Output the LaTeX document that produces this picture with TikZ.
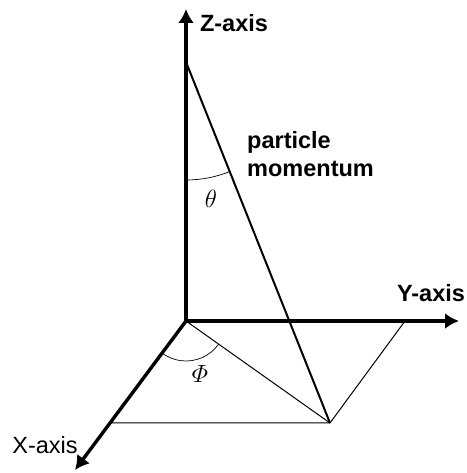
\documentclass[tikz,border=0pt]{standalone}
\usepackage{amsmath}
\usepackage{fontspec}
\setmainfont{Liberation Sans}
\usepackage{xcolor}
\usetikzlibrary{arrows.meta}
\definecolor{AxisBlack}{HTML}{000000}
\tikzset{
  axisline/.style={AxisBlack,line width=3.4pt,-{Latex[length=14pt,width=16pt]}},
  vecline/.style={AxisBlack,line width=2pt},
  thinline/.style={AxisBlack,line width=1pt},
  anglearc/.style={AxisBlack,line width=0.7pt},
  axislabel/.style={font=\fontsize{23.5}{28}\selectfont\bfseries},
  anglelabel/.style={font=\fontsize{23}{26}\selectfont}
}

\begin{document}
\begin{tikzpicture}[x=1pt,y=1pt,>=Latex]
    \useasboundingbox (0,0) rectangle (466,473);
    \coordinate (O) at (186,152);
    \coordinate (Ztip) at (186,464);
    \coordinate (Ytip) at (459,152);
    \coordinate (Xtip) at (75,3);
    \coordinate (Ztop) at (186,411);
    \coordinate (Xfoot) at (110,50);
    \coordinate (Yfoot) at (405,152);
    \coordinate (Pfoot) at (330,50);
    % base parallelogram
    \draw[thinline] (Xfoot)--(Pfoot)--(Yfoot);
    \draw[thinline] (O)--(Pfoot);
    % axes
    \draw[axisline] (O)--(Ztip);
    \draw[axisline] (O)--(Ytip);
    \draw[axisline] (O)--(Xtip);
    \draw[vecline] (Ztop)--(Pfoot);
    % angles
    \draw[anglearc] ([shift={(270:118)}]Ztop) arc[start angle=270,end angle=291.75,radius=118];
    \draw[anglearc] ([shift={(233.3:40)}]O) arc[start angle=233.3,end angle=324.7,radius=40];
    \node[anglelabel] (theta) at (211,274) {$\theta$};
    \node[anglelabel] (phi) at (200,99) {$\varPhi$};
    % labels
    \node[axislabel] (zlab) at (234,450) {Z-axis};
    \node[axislabel] (ylab) at (431,180) {Y-axis};
    \node[axislabel,font=\fontsize{23.5}{28}\selectfont] (xlab) at (45,28) {X-axis};
    \node[axislabel,anchor=west,align=left,inner sep=0pt] (plab) at (247,319) {particle\\momentum};
  \end{tikzpicture}
\end{document}
